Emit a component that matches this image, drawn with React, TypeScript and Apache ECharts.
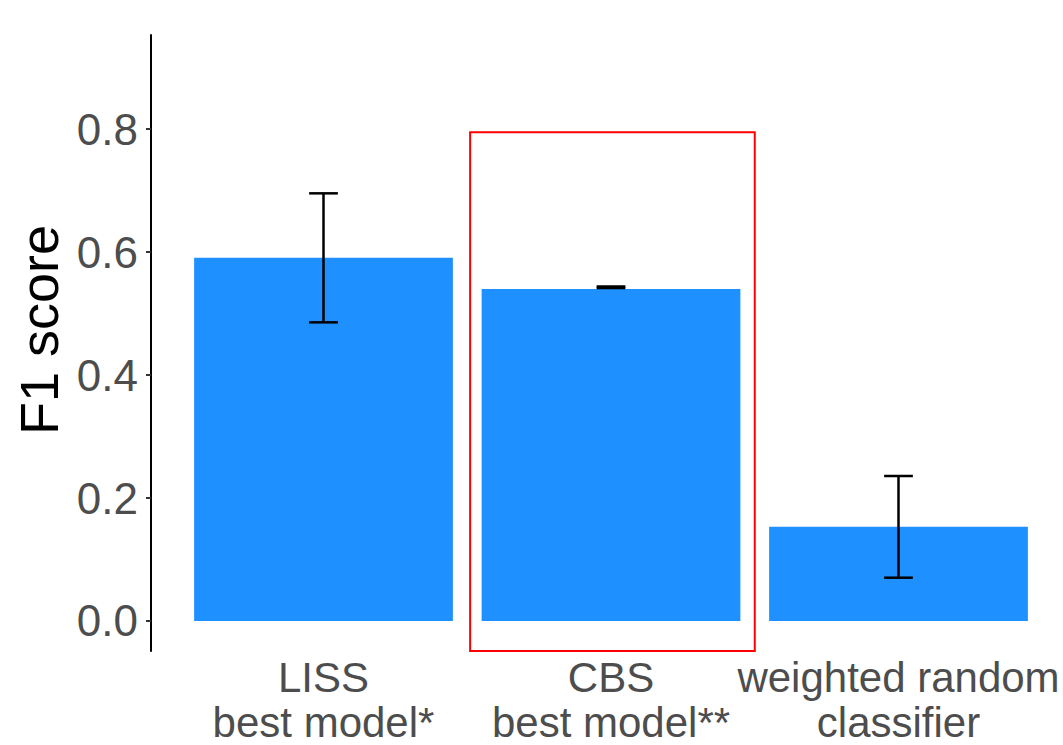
import React, { useEffect, useRef } from "react";
import * as echarts from "echarts";

const categories = ["LISS\nbest model*", "CBS\nbest model**", "weighted random\nclassifier"];
const f1Values = [0.5907, 0.5400, 0.1533];
const errLow = [0.4857, 0.5415, 0.0704];
const errHigh = [0.6955, 0.5440, 0.2358];
const yTicks = [0, 0.2, 0.4, 0.6, 0.8];
const highlightIndex = 1;
const highlightTop = 0.795;

export default function App() {
  const ref = useRef<HTMLDivElement>(null);
  useEffect(() => {
    if (!ref.current) return;
    const chart = echarts.init(ref.current, undefined, { renderer: "svg" });
    const font = "'Liberation Sans', Arial, sans-serif";
    chart.setOption({
      animation: false,
      backgroundColor: "#ffffff",
      grid: { left: 179.75, right: 20.75, top: 35, bottom: 94, containLabel: false },
      xAxis: {
        type: "category",
        data: categories,
        boundaryGap: true,
        axisLine: { show: false },
        axisTick: { show: false },
        axisLabel: {
          interval: 0,
          fontSize: 42,
          lineHeight: 45,
          color: "#4d4d4d",
          fontFamily: font,
          margin: 4,
        },
      },
      yAxis: {
        type: "value",
        min: -0.0488,
        max: 0.953,
        offset: 28.75,
        name: "F1 score",
        nameLocation: "middle",
        nameRotate: 90,
        nameGap: 80,
        nameTextStyle: { fontSize: 54, color: "#000000", fontFamily: font, padding: [0, 0, 0, 26] },
        splitLine: { show: false },
        axisLine: { show: true, lineStyle: { color: "#000000", width: 2 } },
        axisTick: { show: true, length: 5, lineStyle: { color: "#333333", width: 2 }, customValues: yTicks },
        axisLabel: {
          customValues: yTicks,
          fontSize: 44,
          color: "#4d4d4d",
          fontFamily: font,
          margin: 13,
          formatter: (v: number) => v.toFixed(1),
        },
      },
      series: [
        {
          type: "bar",
          data: f1Values,
          barWidth: "90%",
          itemStyle: { color: "#1E90FF" },
          z: 2,
        },
        {
          type: "custom",
          z: 5,
          data: f1Values.map((_, i) => [i, errLow[i], errHigh[i]]),
          renderItem: (params: any, api: any) => {
            const x = api.value(0);
            const pLow = api.coord([x, api.value(1)]);
            const pHigh = api.coord([x, api.value(2)]);
            const band = api.size([1, 0])[0];
            const hw = band * 0.05;
            const style = { stroke: "#000000", lineWidth: 2.5 };
            return {
              type: "group",
              children: [
                { type: "line", shape: { x1: pLow[0], y1: pLow[1], x2: pHigh[0], y2: pHigh[1] }, style },
                { type: "line", shape: { x1: pLow[0] - hw, y1: pLow[1], x2: pLow[0] + hw, y2: pLow[1] }, style },
                { type: "line", shape: { x1: pHigh[0] - hw, y1: pHigh[1], x2: pHigh[0] + hw, y2: pHigh[1] }, style },
              ],
            };
          },
        },
        {
          type: "custom",
          z: 6,
          clip: false,
          data: [[highlightIndex, highlightTop]],
          renderItem: (params: any, api: any) => {
            const c = api.coord([api.value(0), api.value(1)]);
            const band = api.size([1, 0])[0];
            const bottom = params.coordSys.y + params.coordSys.height;
            const x0 = c[0] - band * 0.49;
            const x1 = c[0] + band * 0.5;
            return {
              type: "rect",
              shape: { x: x0, y: c[1], width: x1 - x0, height: bottom - c[1] },
              style: { fill: "none", stroke: "#ff0000", lineWidth: 2 },
            };
          },
        },
      ],
    });
    return () => chart.dispose();
  }, []);
  return (
    <div
      ref={ref}
      style={{ position: "fixed", left: 0, top: 0, width: 1063, height: 745 }}
    />
  );
}
